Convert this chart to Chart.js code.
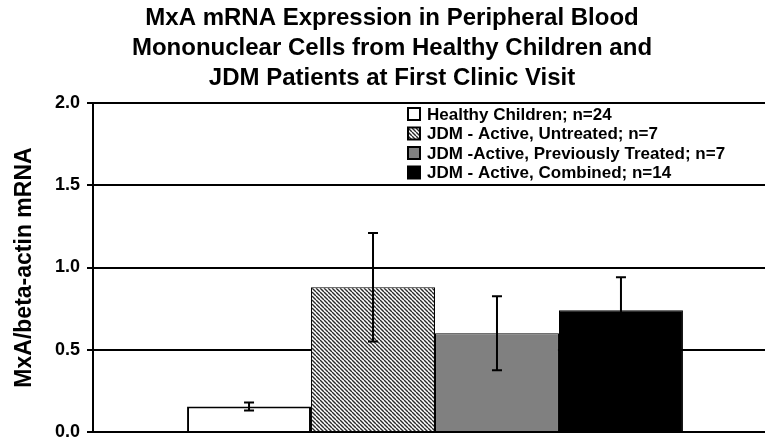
<!DOCTYPE html>
<html>
<head>
<meta charset="utf-8">
<script src="https://cdn.jsdelivr.net/npm/chart.js@4.4.1/dist/chart.umd.min.js"></script>
<style>
  html, body { margin: 0; padding: 0; background: #fff; overflow: hidden; }
  #wrap { width: 765px; height: 441px; overflow: hidden; }
</style>
</head>
<body>
<div id="wrap"><canvas id="mxaChart" width="780" height="441"></canvas></div>
<script>
// data
const groups = ['Healthy Children; n=24', 'JDM - Active, Untreated; n=7', 'JDM -Active, Previously Treated; n=7', 'JDM - Active, Combined; n=14'];
const means = [0.155, 0.88, 0.60, 0.74];
const errors = [0.025, 0.33, 0.225, 0.20];
const yTicks = [0, 0.5, 1.0, 1.5, 2.0];

const fontFamily = '"Liberation Sans", Arial, sans-serif';

// diagonal hatch for the untreated group
const makeHatch = () => {
  const size = 4;
  const c = document.createElement('canvas');
  c.width = size; c.height = size;
  const pc = c.getContext('2d');
  pc.fillStyle = '#ffffff';
  pc.fillRect(0, 0, size, size);
  pc.strokeStyle = '#2a2a2a';
  pc.lineWidth = 1.4;
  [-size, 0, size].forEach(off => {
    pc.beginPath();
    pc.moveTo(off, 0);
    pc.lineTo(off + size, size);
    pc.stroke();
  });
  return pc.createPattern(c, 'repeat');
};

const fills = ['#ffffff', makeHatch(), '#808080', '#000000'];
const borders = [2, 1, 1, 1];

const errorBars = {
  id: 'errorBars',
  afterDatasetsDraw(chart) {
    const ctx = chart.ctx;
    const y = chart.scales.y;
    ctx.save();
    ctx.strokeStyle = '#000';
    ctx.lineWidth = 2;
    chart.data.datasets.forEach((ds, i) => {
      const bar = chart.getDatasetMeta(i).data[0];
      const top = y.getPixelForValue(means[i] + errors[i]);
      const bot = y.getPixelForValue(means[i] - errors[i]);
      const half = 5;
      ctx.beginPath();
      ctx.moveTo(bar.x, top); ctx.lineTo(bar.x, bot);
      ctx.moveTo(bar.x - half, top); ctx.lineTo(bar.x + half, top);
      ctx.moveTo(bar.x - half, bot); ctx.lineTo(bar.x + half, bot);
      ctx.stroke();
    });
    ctx.restore();
  }
};

// legend sits inside the plot, upper right
const innerLegend = {
  id: 'innerLegend',
  afterDatasetsDraw(chart) {
    const ctx = chart.ctx;
    const area = chart.chartArea;
    const x0 = area.left + 315;
    const y0 = area.top + 11;
    const step = 19.5;
    const box = 12;
    ctx.save();
    ctx.font = 'bold 17px ' + fontFamily;
    ctx.textBaseline = 'middle';
    chart.data.datasets.forEach((ds, i) => {
      const cy = y0 + i * step;
      ctx.fillStyle = ds.backgroundColor;
      ctx.fillRect(x0, cy - box / 2, box, box);
      ctx.strokeStyle = '#000';
      ctx.lineWidth = 2;
      ctx.strokeRect(x0, cy - box / 2, box, box);
      ctx.fillStyle = '#000';
      ctx.fillText(ds.label, x0 + box + 7, cy + 1);
    });
    ctx.restore();
  }
};

const ctx = document.getElementById('mxaChart').getContext('2d');

new Chart(ctx, {
  type: 'bar',
  data: {
    labels: [''],
    datasets: groups.map((g, i) => ({
      label: g,
      data: [means[i]],
      backgroundColor: fills[i],
      borderColor: '#000',
      borderWidth: borders[i],
      categoryPercentage: 0.725,
      barPercentage: 1.0
    }))
  },
  options: {
    responsive: false,
    animation: false,
    layout: { padding: { left: 7, right: 3, top: 0, bottom: 9 } },
    scales: {
      x: {
        grid: { display: false, drawTicks: false },
        border: { display: true, color: '#000', width: 2 },
        ticks: { display: false },
        afterFit: (scale) => { scale.height = 0; }
      },
      y: {
        min: 0,
        max: 2,
        afterBuildTicks: (scale) => { scale.ticks = yTicks.map(v => ({ value: v })); },
        afterFit: (scale) => {
          scale.width = 86;
          scale.paddingTop = 0;
          scale.paddingBottom = 0;
        },
        grid: { color: '#000', lineWidth: 2, tickLength: 6 },
        border: { display: true, color: '#000', width: 2 },
        ticks: {
          color: '#000',
          padding: 7,
          font: { family: fontFamily, size: 18, weight: 'bold', lineHeight: 1 },
          callback: (v) => Number(v).toFixed(1)
        },
        title: {
          display: true,
          text: 'MxA/beta-actin mRNA',
          color: '#000',
          padding: { top: 4, bottom: 0 },
          font: { family: fontFamily, size: 23, weight: 'bold' }
        }
      }
    },
    plugins: {
      legend: { display: false },
      tooltip: { enabled: false },
      title: {
        display: true,
        text: ['MxA mRNA Expression in Peripheral Blood', 'Mononuclear Cells from Healthy Children and', 'JDM Patients at First Clinic Visit'],
        color: '#000',
        font: { family: fontFamily, size: 24, weight: 'bold', lineHeight: 1.25 },
        padding: { top: 3, bottom: 10 }
      }
    }
  },
  plugins: [errorBars, innerLegend]
});
</script>
</body>
</html>
